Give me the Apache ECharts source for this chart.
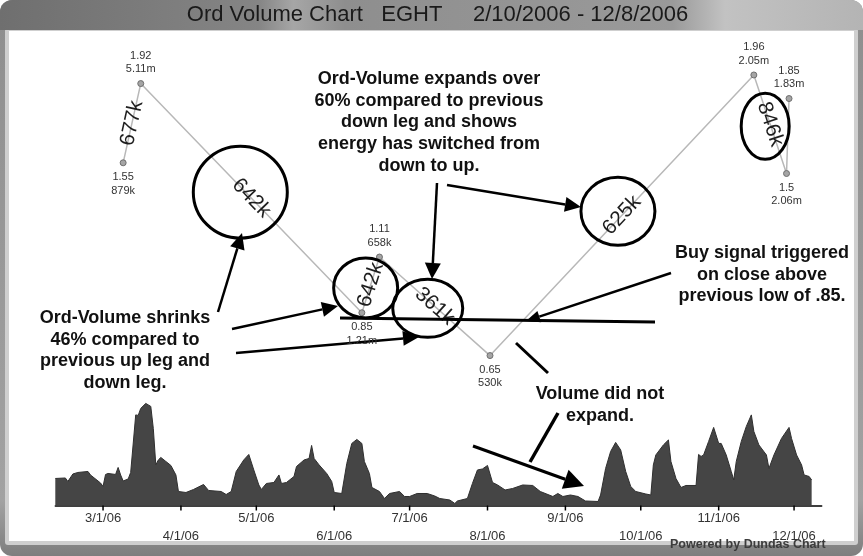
<!DOCTYPE html>
<html>
<head>
<meta charset="utf-8">
<script src="https://cdn.jsdelivr.net/npm/echarts@6/dist/echarts.min.js"></script>
<style>
  html, body { margin: 0; padding: 0; background: #ffffff; }
  #chart { width: 863px; height: 556px; }
</style>
</head>
<body>
<div id="chart"></div>
<script>
// Daily volume (thousands of shares)
const volDates = [
  '2006-02-10','2006-02-14','2006-02-15','2006-02-17','2006-02-19','2006-02-23','2006-02-24','2006-02-28',
  '2006-03-01','2006-03-02','2006-03-03','2006-03-06','2006-03-07','2006-03-08','2006-03-09','2006-03-11','2006-03-12','2006-03-14','2006-03-15','2006-03-16','2006-03-18','2006-03-20','2006-03-21','2006-03-22','2006-03-23','2006-03-24','2006-03-26','2006-03-28','2006-03-30','2006-03-31',
  '2006-04-03','2006-04-06','2006-04-10','2006-04-12','2006-04-17','2006-04-19','2006-04-21','2006-04-23','2006-04-26','2006-04-28','2006-04-30',
  '2006-05-02','2006-05-03','2006-05-05','2006-05-08','2006-05-10','2006-05-11','2006-05-13','2006-05-16','2006-05-17','2006-05-20','2006-05-22','2006-05-23','2006-05-24','2006-05-26','2006-05-29','2006-05-31',
  '2006-06-01','2006-06-04','2006-06-06','2006-06-08','2006-06-10','2006-06-12','2006-06-13','2006-06-15','2006-06-16','2006-06-19','2006-06-21','2006-06-23','2006-06-27','2006-06-29',
  '2006-07-01','2006-07-04','2006-07-08','2006-07-11','2006-07-13','2006-07-17','2006-07-19','2006-07-20','2006-07-24','2006-07-26','2006-07-28','2006-07-30',
  '2006-08-01','2006-08-03','2006-08-05','2006-08-08','2006-08-11','2006-08-15','2006-08-19','2006-08-22','2006-08-27','2006-08-29','2006-08-31',
  '2006-09-03','2006-09-06','2006-09-09','2006-09-14','2006-09-15','2006-09-17','2006-09-19','2006-09-21','2006-09-23','2006-09-25','2006-09-27','2006-09-29',
  '2006-10-03','2006-10-05','2006-10-06','2006-10-07','2006-10-10','2006-10-12','2006-10-13','2006-10-15','2006-10-17','2006-10-19','2006-10-23','2006-10-24','2006-10-25','2006-10-26','2006-10-28','2006-10-30',
  '2006-11-01','2006-11-02','2006-11-04','2006-11-06','2006-11-07','2006-11-08','2006-11-10','2006-11-12','2006-11-14','2006-11-15','2006-11-17','2006-11-20','2006-11-21','2006-11-23','2006-11-26','2006-11-29','2006-11-30',
  '2006-12-02','2006-12-04','2006-12-05','2006-12-07','2006-12-08'
];
const volValues = [
  540,550,480,630,660,680,610,450,
  380,620,640,620,760,610,490,530,660,1810,1800,1940,2040,1980,1540,810,910,960,880,800,610,280,
  260,320,420,300,280,220,280,680,910,1020,710,
  410,320,440,460,610,440,460,580,780,910,940,1200,940,810,640,480,
  260,240,840,1240,1320,1240,880,640,360,280,140,240,280,180,
  180,240,240,190,140,110,40,90,140,440,710,730,
  800,460,410,310,340,410,400,280,180,240,180,
  210,180,90,80,210,740,1080,1260,1110,680,380,280,
  230,210,810,1010,1210,1310,880,540,360,400,400,1020,980,1010,1280,1560,
  1240,1240,1010,680,510,880,1280,1580,1810,1480,1210,1010,740,1010,1340,1560,1340,
  1010,810,610,580,510
];

// Swing pivots of the ord-volume zigzag
const pivotDates   = ['2006-03-09','2006-03-16','2006-06-12','2006-06-19','2006-08-02','2006-11-15','2006-11-28','2006-11-29'];
const pivotPrices  = [1.55, 1.92, 0.85, 1.11, 0.65, 1.96, 1.5, 1.85];
const pivotVolumes = ['879k','5.11m','1.21m','658k','530k','2.05m','2.06m','1.83m'];
// Average daily volume of each leg between consecutive pivots
const legVolumes   = ['677k','642k','642k','361k','625k','846k',''];

// Month ticks on the date axis
const tickDates  = ['2006-03-01','2006-04-01','2006-05-01','2006-06-01','2006-07-01','2006-08-01','2006-09-01','2006-10-01','2006-11-01','2006-12-01'];
const tickLabels = ['3/1/06','4/1/06','5/1/06','6/1/06','7/1/06','8/1/06','9/1/06','10/1/06','11/1/06','12/1/06'];
const axisStart = '2006-02-10';
const axisEnd   = '2006-12-12';

const ts = s => +echarts.time.parse(s);
const FONT = "'Liberation Sans', Arial, sans-serif";

const chart = echarts.init(document.getElementById('chart'), null, { renderer: 'canvas' });

const volData = volDates.map((d, i) => [ts(d), volValues[i]]);
const pivotData = pivotDates.map((d, i) => {
  const prev = pivotPrices[i - 1], next = pivotPrices[i + 1];
  const ref = next !== undefined ? next : prev;
  const isHigh = pivotPrices[i] > ref;
  return { value: [ts(d), pivotPrices[i]], label: { position: isHigh ? 'top' : 'bottom' } };
});
const legData = legVolumes.map((_, i) => [ts(pivotDates[i]), pivotPrices[i], ts(pivotDates[i + 1]), pivotPrices[i + 1]]);
const tickData = tickDates.map(d => [ts(d), 0]);

// Hand-drawn rings around some leg labels (offset from leg midpoint, radii)
const rings = {
  1: { dx: -11, dy: -6, rx: 47, ry: 46 },
  2: { dx: -5,  dy: 3,  rx: 32, ry: 30 },
  3: { dx: -7,  dy: 2,  rx: 35, ry: 29 },
  4: { dx: -4,  dy: -4, rx: 37, ry: 34 },
  5: { dx: -5,  dy: 2,  rx: 24, ry: 33 }
};

function renderLeg(params, api) {
  const i = params.dataIndex;
  const a = api.coord([api.value(0), api.value(1)]);
  const b = api.coord([api.value(2), api.value(3)]);
  const mx = (a[0] + b[0]) / 2, my = (a[1] + b[1]) / 2;
  const ang = Math.atan2(b[1] - a[1], b[0] - a[0]);
  const children = [];
  if (legVolumes[i]) {
    children.push({
      type: 'text', x: mx, y: my, rotation: -ang,
      style: { text: legVolumes[i], font: '21px ' + FONT, fill: '#1e1e1e', align: 'center', verticalAlign: 'middle' }
    });
  }
  const r = rings[i];
  if (r) {
    children.push({
      type: 'ellipse',
      shape: { cx: mx + r.dx, cy: my + r.dy, rx: r.rx, ry: r.ry },
      style: { fill: 'none', stroke: '#000', lineWidth: 3 }
    });
  }
  return { type: 'group', children };
}

// Month tick marks with staggered date labels
function renderTick(params, api) {
  const i = params.dataIndex;
  const p = api.coord([api.value(0), api.value(1)]);
  const low = i % 2 === 1;
  return {
    type: 'group',
    children: [
      { type: 'line', shape: { x1: p[0], y1: p[1], x2: p[0], y2: p[1] + 5 }, style: { stroke: '#000', lineWidth: 1.5 } },
      { type: 'text', x: p[0], y: p[1] + (low ? 30.5 : 12.5),
        style: { text: tickLabels[i], font: '13px ' + FONT, fill: '#333', align: 'center', verticalAlign: 'middle' } }
    ]
  };
}

// Annotation helpers
function arrow(x1, y1, x2, y2, len, half, width) {
  const ang = Math.atan2(y2 - y1, x2 - x1);
  const bx = x2 - Math.cos(ang) * len, by = y2 - Math.sin(ang) * len;
  const nx = -Math.sin(ang) * half, ny = Math.cos(ang) * half;
  return {
    type: 'group', z: 50, silent: true,
    children: [
      { type: 'line', shape: { x1, y1, x2: bx, y2: by }, style: { stroke: '#000', lineWidth: width || 2.5 } },
      { type: 'polygon', shape: { points: [[x2, y2], [bx + nx, by + ny], [bx - nx, by - ny]] }, style: { fill: '#000' } }
    ]
  };
}
function stroke(x1, y1, x2, y2, w) {
  return { type: 'line', z: 50, silent: true, shape: { x1, y1, x2, y2 }, style: { stroke: '#000', lineWidth: w } };
}
function note(x, y, text) {
  return {
    type: 'text', z: 50, silent: true, x, y,
    style: { text, font: 'bold 18px ' + FONT, fill: '#111', align: 'center', verticalAlign: 'top', lineHeight: 21.7 }
  };
}

const G = echarts.graphic;
const graphics = [
  // frame
  { type: 'rect', z: 0, silent: true, shape: { x: 0, y: 0, width: 863, height: 556, r: 12 },
    style: { fill: new G.LinearGradient(0, 0, 0, 1, [{ offset: 0, color: '#8e8e8e' }, { offset: 0.9, color: '#a2a2a2' }, { offset: 1, color: '#7e7e7e' }]) } },
  { type: 'rect', z: 0, silent: true, shape: { x: 5, y: 28, width: 853, height: 517, r: 3 }, style: { fill: '#cfcfcf' } },
  { type: 'rect', z: 0, silent: true, shape: { x: 9, y: 31, width: 845, height: 510 }, style: { fill: '#ffffff' } },
  // title bar
  { type: 'rect', z: 0, silent: true, shape: { x: 0, y: 0, width: 863, height: 30, r: [12, 12, 0, 0] },
    style: { fill: new G.LinearGradient(0, 0, 1, 0, [
      { offset: 0, color: '#6f6f6f' }, { offset: 0.3, color: '#858585' }, { offset: 0.34, color: '#a6a6a6' },
      { offset: 0.4, color: '#8e8e8e' }, { offset: 0.78, color: '#9a9a9a' }, { offset: 0.84, color: '#c2c2c2' },
      { offset: 1, color: '#b4b4b4' }]) } },
  { type: 'text', z: 5, silent: true, x: 437.5, y: 15,
    style: { text: 'Ord Volume Chart   EGHT     2/10/2006 - 12/8/2006', font: '22px ' + FONT, fill: '#1a1a1a', align: 'center', verticalAlign: 'middle' } },
  { type: 'text', z: 5, silent: true, x: 670, y: 545,
    style: { text: 'Powered by Dundas Chart', font: 'bold 12.5px ' + FONT, fill: '#3c3c3c', align: 'left', verticalAlign: 'middle' } },

  // callout texts
  note(429, 68, 'Ord-Volume expands over\n60% compared to previous\ndown leg and shows\nenergy has switched from\ndown to up.'),
  note(762, 242, 'Buy signal triggered\non close above\nprevious low of .85.'),
  note(125, 307, 'Ord-Volume shrinks\n46% compared to\nprevious up leg and\ndown leg.'),
  note(600, 383, 'Volume did not\nexpand.'),

  // pointers
  arrow(437, 183, 432, 279, 16, 8),
  arrow(447, 185, 581, 207, 16, 7.5),
  arrow(218, 312, 242, 233, 16, 7.5),
  arrow(232, 329, 338, 306, 16, 7.5),
  arrow(236, 353, 419, 337, 16, 7.5),
  arrow(671, 273, 526, 321, 14, 6),
  arrow(473, 446, 584, 486, 20, 10, 3),
  stroke(340, 318, 655, 322, 3),
  stroke(558, 413, 530, 462, 3.5),
  stroke(516, 343, 548, 373, 3)
];

chart.setOption({
  animation: false,
  grid: { left: 55.3, right: 41.3, top: 30, bottom: 50.5, containLabel: false },
  xAxis: {
    type: 'time',
    min: ts(axisStart), max: ts(axisEnd),
    axisLine: { show: true, lineStyle: { color: '#000', width: 1.5 } },
    axisTick: { show: false },
    axisLabel: { show: false },
    splitLine: { show: false }
  },
  yAxis: [
    { type: 'value', min: 0, max: 9500, show: false, splitLine: { show: false } },
    { type: 'value', min: -0.05, max: 2.17, show: false, splitLine: { show: false } }
  ],
  series: [
    {
      type: 'line', yAxisIndex: 0, data: volData, showSymbol: false, symbol: 'none',
      lineStyle: { color: '#2f2f2f', width: 1 },
      areaStyle: { color: '#454545', opacity: 1 },
      z: 2, silent: true
    },
    {
      type: 'custom', yAxisIndex: 0, data: tickData,
      encode: { x: 0, y: 1 }, renderItem: renderTick, clip: false, z: 3, silent: true
    },
    {
      type: 'line', yAxisIndex: 1, data: pivotData,
      symbol: 'circle', symbolSize: 6, showAllSymbol: true,
      lineStyle: { color: '#b8b8b8', width: 1.5 },
      itemStyle: { color: '#a5a5a5', borderColor: '#6f6f6f', borderWidth: 1 },
      label: {
        show: true, distance: 4, fontFamily: FONT, fontSize: 11, lineHeight: 13.5, color: '#333',
        formatter: p => pivotPrices[p.dataIndex] + '\n' + pivotVolumes[p.dataIndex]
      },
      z: 3, silent: true
    },
    {
      type: 'custom', yAxisIndex: 1, data: legData,
      encode: { x: [0, 2], y: [1, 3] },
      renderItem: renderLeg, z: 4, silent: true
    }
  ],
  graphic: { elements: graphics }
});
</script>
</body>
</html>
